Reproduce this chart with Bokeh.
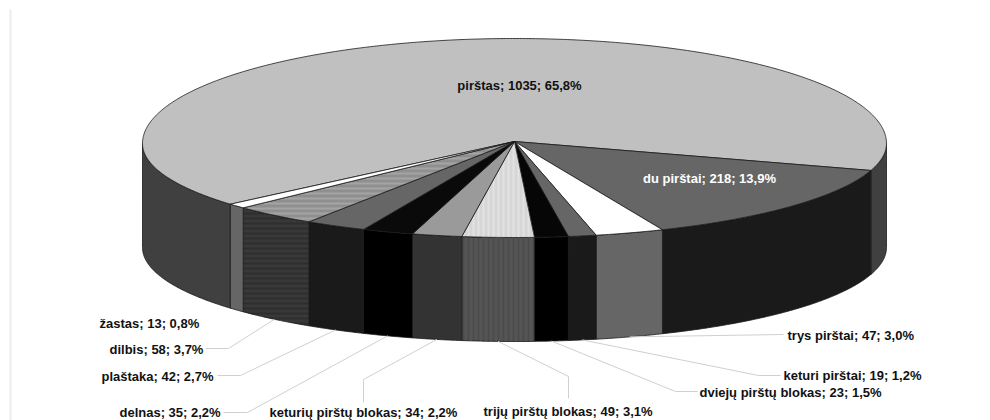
import numpy as np
from bokeh.plotting import figure
from bokeh.models import Range1d
from bokeh.core.properties import value
from bokeh.embed import file_html
from bokeh.resources import INLINE

names = ["pirštas", "du pirštai", "trys pirštai", "keturi pirštai", "dviejų pirštų blokas",
         "trijų pirštų blokas", "keturių pirštų blokas", "delnas", "plaštaka", "dilbis", "žastas"]
counts = [1035, 218, 47, 19, 23, 49, 34, 35, 42, 58, 13]
shares = ["65,8%", "13,9%", "3,0%", "1,2%", "1,5%", "3,1%", "2,2%", "2,2%", "2,7%", "3,7%", "0,8%"]

top_colors = ["#c0c0c0", "#666666", "#ffffff", "#666666", "#060606", "#d6d6d6",
              "#9a9a9a", "#0a0a0a", "#666666", "#8f8f8f", "#ffffff"]
side_colors = ["#404040", "#1a1a1a", "#666666", "#1a1a1a", "#000000", "#555555",
               "#333333", "#000000", "#1a1a1a", "#383838", "#666666"]
top_hatch = {5: ("vertical_line", "#e2e2e2"), 9: ("horizontal_line", "#a4a4a4")}
side_hatch = {5: ("vertical_line", "#4b4b4b"), 9: ("horizontal_line", "#2e2e2e")}

# layout (page pixels); the rim is slightly foreshortened: the front half is flatter than the back
CX, APEX_Y, RIM_Y, A, B_FRONT, B_BACK, DEPTH = 514.0, 141.0, 143.0, 372.0, 94.0, 105.0, 104.0
START_DEG = 139.8   # rim angle where the first slice begins, clockwise on screen

label_pos = [
    (519, 85, "center"), (709, 178, "center"), (787, 335, "left"), (783, 375, "left"),
    (699, 392, "left"), (483, 411, "left"), (269, 412, "left"), (119, 412, "left"),
    (101, 376, "left"), (109, 349, "left"), (99, 323, "left"),
]
leader_knees = {
    2: [(783, 334)], 3: [(758, 375), (780, 375)], 4: [(675, 391), (697, 391)],
    5: [(568, 376), (568, 398)], 6: [(363, 379), (363, 402)], 7: [(247, 412), (223, 412)],
    8: [(240, 375), (217, 375)], 9: [(228, 348), (205, 348)],
}

p = figure(width=990, height=420, x_range=Range1d(0, 990), y_range=Range1d(420, 0),
           output_backend="svg", toolbar_location=None, min_border=0)
p.axis.visible = False
p.grid.visible = False
p.outline_line_color = None
p.background_fill_color = "#ffffff"

# faint page-edge rule at the left of the picture
p.line([10, 10], [9, 420], line_color="#ececec", line_width=2)

vals = np.array(counts, dtype=float)
edges = START_DEG + np.concatenate([[0], np.cumsum(vals) / vals.sum() * 360.0])

def rim(deg):
    t = np.radians(deg)
    s = np.sin(t)
    return CX + A * np.cos(t), RIM_Y + np.where(s > 0, B_FRONT, B_BACK) * s

def arc(d0, d1):
    n = max(2, int(abs(d1 - d0) * 2) + 2)
    return rim(np.linspace(d0, d1, n))

LINE = dict(line_color="#1a1a1a", line_width=0.8)

# side walls: only the part of each slice that lies on the front half of the rim
fronts = []
for i in range(len(vals)):
    for shift in (-360, 0, 360):
        lo, hi = max(edges[i] + shift, 0.0), min(edges[i + 1] + shift, 180.0)
        if hi > lo:
            fronts.append((i, lo, hi))
for i, lo, hi in fronts:
    x, y = arc(lo, hi)
    xs = np.concatenate([x, x[::-1]])
    ys = np.concatenate([y, y[::-1] + DEPTH])
    kw = {}
    if i in side_hatch:
        kw = dict(hatch_pattern=side_hatch[i][0], hatch_color=side_hatch[i][1], hatch_scale=5, hatch_weight=2)
    p.patch(xs, ys, fill_color=side_colors[i], **LINE, **kw)

# top faces
for i in range(len(vals)):
    x, y = arc(edges[i], edges[i + 1])
    xs = np.concatenate([[CX], x])
    ys = np.concatenate([[APEX_Y], y])
    kw = {}
    if i in top_hatch:
        kw = dict(hatch_pattern=top_hatch[i][0], hatch_color=top_hatch[i][1], hatch_scale=5, hatch_weight=2)
    p.patch(xs, ys, fill_color=top_colors[i], **LINE, **kw)

# leader lines from each slice's wall foot
for i, knees in leader_knees.items():
    mid = (edges[i] + edges[i + 1]) / 2
    sx, sy = rim(mid % 360)
    xs = [float(sx)] + [k[0] for k in knees]
    ys = [float(sy) + DEPTH] + [k[1] for k in knees]
    p.line(xs, ys, line_color="#d0d0d0", line_width=1)

for i, name in enumerate(names):
    lx, ly, al = label_pos[i]
    p.text([lx], [ly], text=[f"{name}; {counts[i]}; {shares[i]}"],
           text_font=value("Liberation Sans"), text_font_style="bold", text_font_size="13px",
           text_color="#ffffff" if i == 1 else "#111111", text_align=al, text_baseline="middle")

open("out.html", "w").write(file_html(p, INLINE))
